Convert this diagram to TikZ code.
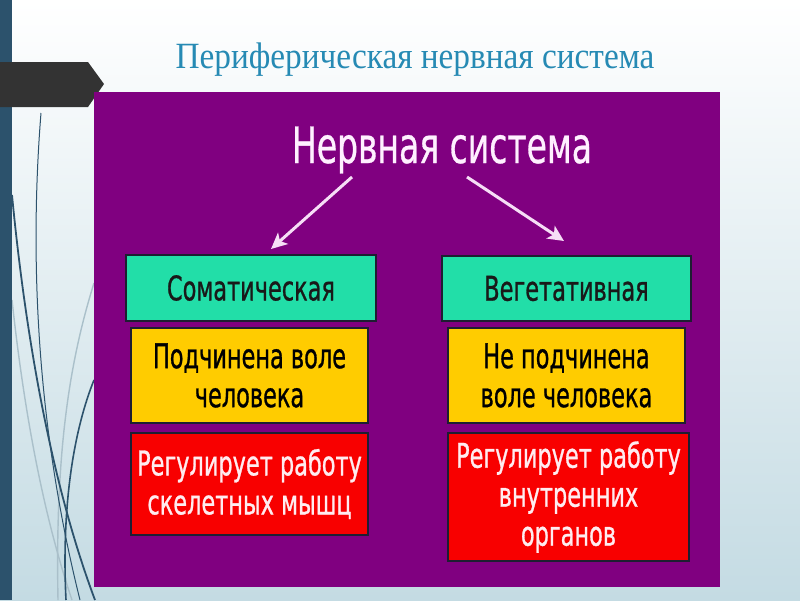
\documentclass[tikz,border=0pt]{standalone}
\usepackage{fontspec}
\usetikzlibrary{arrows.meta}
\setmainfont{Liberation Serif}
\newfontfamily\titlef[FakeStretch=0.9]{Liberation Serif}
\newfontfamily\boxf[FakeStretch=0.66,FakeBold=0.8]{DejaVu Sans}
\newfontfamily\headf[FakeStretch=0.66,FakeBold=0.6]{DejaVu Sans}
\definecolor{bgbot}{RGB}{196,219,227}
\definecolor{barc}{RGB}{44,82,108}
\definecolor{tabc}{RGB}{51,51,51}
\definecolor{titlec}{RGB}{38,138,180}
\definecolor{purp}{RGB}{128,0,128}
\definecolor{tealbox}{RGB}{34,222,168}
\definecolor{yelbox}{RGB}{255,204,0}
\definecolor{redbox}{RGB}{248,0,0}
\definecolor{redtext}{RGB}{255,236,240}
\definecolor{headtext}{RGB}{255,240,255}
\definecolor{arrc}{RGB}{246,222,246}
\definecolor{edgec}{RGB}{30,30,50}
\definecolor{curvd}{RGB}{44,82,108}
\definecolor{curvl}{RGB}{170,192,202}
\tikzset{
  box/.style={draw=edgec, line width=1.4pt, rectangle, inner sep=0pt, align=center,
    font=\boxf\fontsize{34}{39}\selectfont},
  tealb/.style={box, fill=tealbox, text=black!90},
  yelb/.style={box, fill=yelbox, text=black},
  redb/.style={box, fill=redbox, text=redtext},
  arr/.style={draw=arrc, line width=3pt, -{Stealth[length=16pt,width=15pt,inset=4pt]}},
  deco/.style={line width=1.6pt, draw=curvd},
  decol/.style={line width=1.4pt, draw=curvl}
}
\begin{document}
\begin{tikzpicture}[x=1pt,y=-1pt]
\useasboundingbox (0,0) rectangle (800,600);
\shade[top color=white, bottom color=bgbot] (0,0) rectangle (800,600);
% decorative curves
\draw[decol] (94,283) .. controls (70,360) and (55,450) .. (58,600);
\draw[decol] (12,300) .. controls (25,420) and (45,520) .. (72,600);
\draw[deco, line width=1pt] (41,113) .. controls (30,250) and (35,420) .. (80,600);
\draw[deco, line width=1.8pt] (12,195) .. controls (25,330) and (50,480) .. (95,600);
\draw[deco] (94,380) .. controls (70,440) and (62,520) .. (66,600);
% left bar
\fill[barc] (0,0) rectangle (12,600);
% tab
\fill[tabc] (0,62) -- (88,62) -- (104,84) -- (88,107) -- (0,107) -- cycle;
% title
\node[anchor=base, text=titlec, font=\titlef\fontsize{37}{44}\selectfont] (title) at (415,68) {Периферическая нервная система};
% purple panel
\fill[purp] (94,92) rectangle (720,587);
% heading
\node[anchor=base, text=headtext, font=\headf\fontsize{50}{58}\selectfont] (head) at (442,163) {Нервная система};
% boxes
\node[tealb, minimum width=250pt, minimum height=66pt] (som) at (251,288) {Соматическая};
\node[yelb, minimum width=237pt, minimum height=95pt] (somy) at (249.5,375.5) {Подчинена воле\\человека};
\node[redb, minimum width=237pt, minimum height=102pt] (somr) at (249.5,484) {Регулирует работу\\скелетных мышц};
\node[tealb, minimum width=249pt, minimum height=65pt] (veg) at (566.5,288.5) {Вегетативная};
\node[yelb, minimum width=237pt, minimum height=95pt] (vegy) at (566.5,375.5) {Не подчинена\\воле человека};
\node[redb, minimum width=241pt, minimum height=128pt] (vegr) at (568.5,497) {Регулирует работу\\внутренних\\органов};
% arrows
\coordinate (a1s) at (352,177);
\coordinate (a1e) at (271,249);
\coordinate (a2s) at (467,177);
\coordinate (a2e) at (564,241);
\draw[arr] (a1s) -- (a1e);
\draw[arr] (a2s) -- (a2e);
\end{tikzpicture}
\end{document}
